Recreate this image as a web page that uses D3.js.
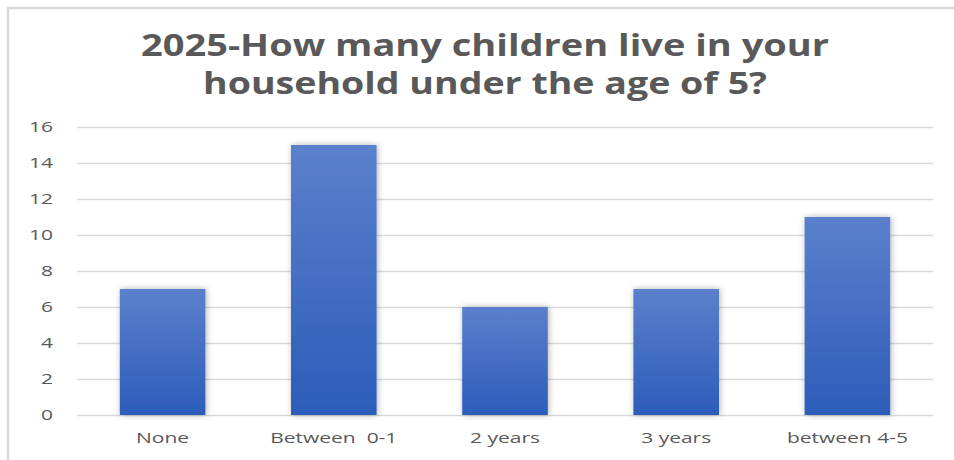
<!DOCTYPE html>
<html>
<head>
<meta charset="utf-8">
<script src="https://cdn.jsdelivr.net/npm/d3@7"></script>
<style>
  html, body { margin: 0; padding: 0; background: #fff; }
  svg { display: block; }
</style>
</head>
<body>
<svg id="chart" width="954" height="460"></svg>
<script>
// Survey answers: children under 5 per household
const categories = ["None", "Between  0-1", "2 years", "3 years", "between 4-5"];
const counts = [7, 15, 6, 7, 11];
const yTicks = [0, 2, 4, 6, 8, 10, 12, 14, 16];
const titleLines = ["2025-How many children live in your", "household under the age of 5?"];

const W = 954, H = 460;
const plot = { left: 77, right: 933, top: 127, bottom: 415 };
const textStretch = 1.5;   // wide label lettering
const ink = "#595959";

const svg = d3.select("#chart");

const defs = svg.append("defs");
const grad = defs.append("linearGradient")
  .attr("id", "barFill").attr("x1", 0).attr("y1", 0).attr("x2", 0).attr("y2", 1);
grad.append("stop").attr("offset", "0%").attr("stop-color", "#5b80cc");
grad.append("stop").attr("offset", "100%").attr("stop-color", "#2c5cb9");

const shadow = defs.append("filter").attr("id", "barShadow")
  .attr("x", "-20%").attr("y", "-10%").attr("width", "140%").attr("height", "120%");
shadow.append("feDropShadow")
  .attr("dx", 1).attr("dy", 0).attr("stdDeviation", 3)
  .attr("flood-color", "#000").attr("flood-opacity", 0.3);

// chart frame (left and top edges)
svg.append("path")
  .attr("d", `M8,${H} V8 H${W}`)
  .attr("fill", "none").attr("stroke", "#d9d9d9").attr("stroke-width", 2.5);

// title
const title = svg.append("text")
  .attr("text-anchor", "middle")
  .attr("font-family", "'Open Sans', sans-serif")
  .attr("font-weight", 700)
  .attr("font-size", 30)
  .attr("fill", ink);
const titleWidths = [688, 564];
titleLines.forEach((line, i) => {
  title.append("tspan")
    .attr("x", 485).attr("y", 56 + i * 38)
    .attr("textLength", titleWidths[i])
    .attr("lengthAdjust", "spacingAndGlyphs")
    .text(line);
});

const x = d3.scaleBand()
  .domain(categories)
  .range([plot.left, plot.right])
  .paddingInner(0.5)
  .paddingOuter(0.25);

const y = d3.scaleLinear()
  .domain([0, 16])
  .range([plot.bottom, plot.top]);

// horizontal gridlines
const yAxis = d3.axisLeft(y)
  .tickValues(yTicks)
  .tickSize(-(plot.right - plot.left))
  .tickFormat("");
const gGrid = svg.append("g")
  .attr("transform", `translate(${plot.left},0)`)
  .call(yAxis);
gGrid.select(".domain").remove();
gGrid.selectAll(".tick line")
  .attr("stroke", "#d9d9d9").attr("stroke-width", 1.5);

// y tick labels
svg.append("g").selectAll("text")
  .data(yTicks)
  .join("text")
  .attr("transform", d => `translate(53,${y(d)}) scale(${textStretch},1)`)
  .attr("dy", "0.36em")
  .attr("text-anchor", "end")
  .attr("font-family", "'Open Sans', sans-serif")
  .attr("font-size", 14)
  .attr("fill", ink)
  .text(d => d);

// bars
svg.append("g").selectAll("rect")
  .data(categories.map((c, i) => ({ c, v: counts[i] })))
  .join("rect")
  .attr("x", d => x(d.c))
  .attr("y", d => y(d.v))
  .attr("width", x.bandwidth())
  .attr("height", d => y(0) - y(d.v))
  .attr("fill", "url(#barFill)")
  .attr("filter", "url(#barShadow)");

// category labels
svg.append("g").selectAll("text")
  .data(categories)
  .join("text")
  .attr("transform", d => `translate(${x(d) + x.bandwidth() / 2},443) scale(${textStretch},1)`)
  .attr("text-anchor", "middle")
  .attr("font-family", "'Open Sans', sans-serif")
  .attr("font-size", 14)
  .attr("fill", ink)
  .style("white-space", "pre")
  .attr("xml:space", "preserve")
  .text(d => d);
</script>
</body>
</html>
